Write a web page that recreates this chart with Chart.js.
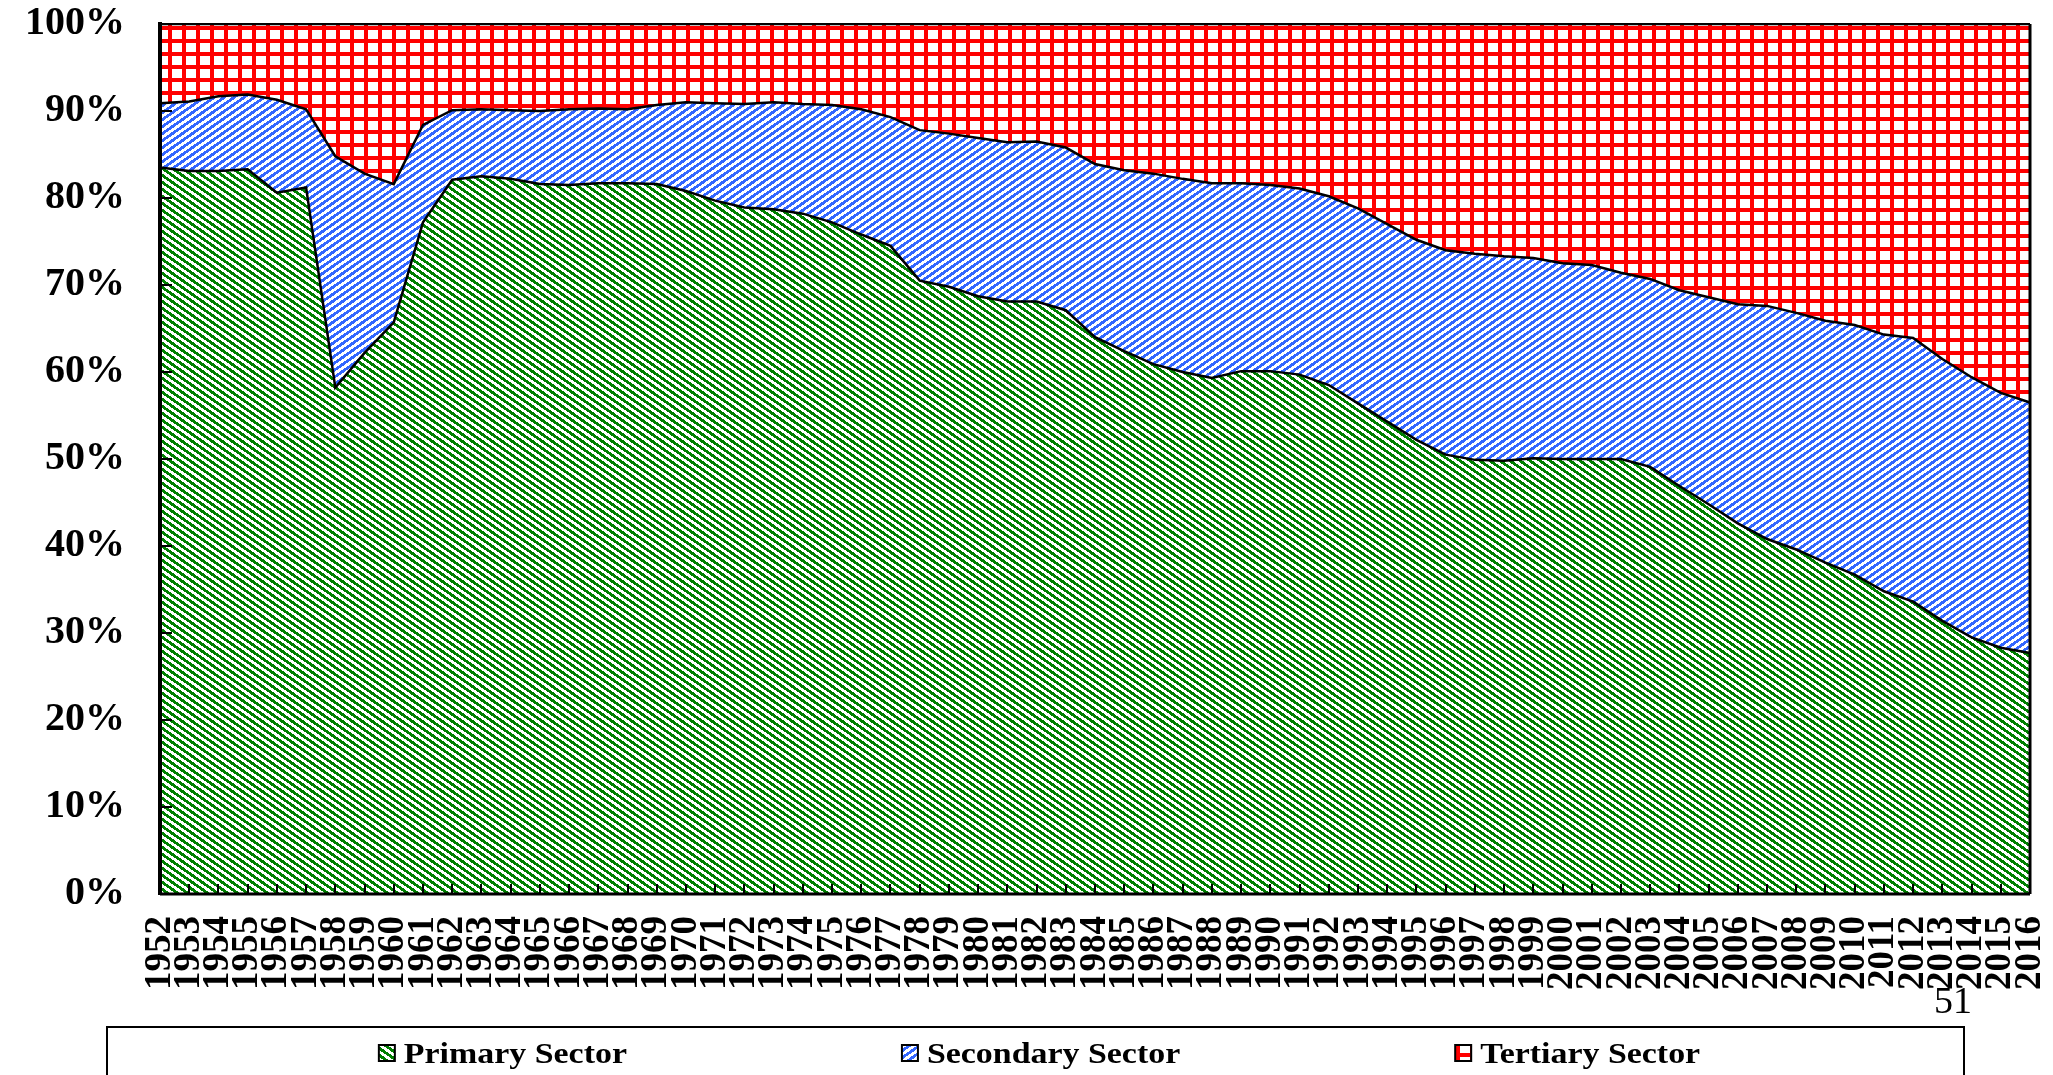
<!DOCTYPE html>
<html>
<head>
<meta charset="utf-8">
<title>Employment by sector</title>
<script src="https://cdn.jsdelivr.net/npm/chart.js@4.4.1/dist/chart.umd.min.js"></script>
<style>
  html, body { margin: 0; padding: 0; background: #fff; }
  #wrap { position: relative; width: 2053px; height: 1075px; overflow: hidden; }
  #pageNo {
    position: absolute; left: 1934px; top: 978px;
    font: 38px 'Liberation Serif', 'Times New Roman', serif; color: #000;
  }
</style>
</head>
<body>
<div id="wrap">
  <canvas id="sectorChart" width="2053" height="1075"></canvas>
  <div id="pageNo">51</div>
</div>
<script>
// data (share of employment, %)
const years = ['1952','1953','1954','1955','1956','1957','1958','1959','1960','1961',
  '1962','1963','1964','1965','1966','1967','1968','1969','1970','1971',
  '1972','1973','1974','1975','1976','1977','1978','1979','1980','1981',
  '1982','1983','1984','1985','1986','1987','1988','1989','1990','1991',
  '1992','1993','1994','1995','1996','1997','1998','1999','2000','2001',
  '2002','2003','2004','2005','2006','2007','2008','2009','2010','2011',
  '2012','2013','2014','2015','2016'];

const primary = [83.5, 83.1, 83.1, 83.3, 80.6, 81.2, 58.2, 62.2, 65.7, 77.2,
  82.1, 82.5, 82.2, 81.6, 81.5, 81.7, 81.7, 81.6, 80.8, 79.7,
  78.9, 78.7, 78.2, 77.2, 75.8, 74.5, 70.5, 69.8, 68.7, 68.1,
  68.1, 67.1, 64.0, 62.4, 60.9, 60.0, 59.3, 60.1, 60.1, 59.7,
  58.5, 56.4, 54.3, 52.2, 50.5, 49.9, 49.8, 50.1, 50.0, 50.0,
  50.0, 49.1, 46.9, 44.8, 42.6, 40.8, 39.6, 38.1, 36.7, 34.8,
  33.6, 31.4, 29.5, 28.3, 27.7];

const secondary = [7.4, 8.0, 8.6, 8.6, 10.7, 9.0, 26.6, 20.6, 15.9, 11.2,
  8.0, 7.7, 7.9, 8.4, 8.7, 8.6, 8.5, 9.1, 10.2, 11.2,
  11.9, 12.3, 12.6, 13.5, 14.4, 14.8, 17.3, 17.6, 18.2, 18.3,
  18.4, 18.7, 19.9, 20.8, 21.9, 22.2, 22.4, 21.6, 21.4, 21.4,
  21.7, 22.4, 22.7, 23.0, 23.5, 23.7, 23.5, 23.0, 22.5, 22.3,
  21.4, 21.6, 22.5, 23.8, 25.2, 26.8, 27.2, 27.8, 28.7, 29.5,
  30.3, 30.1, 29.9, 29.3, 28.8];

const tertiary = [9.1, 8.9, 8.3, 8.1, 8.7, 9.8, 15.2, 17.2, 18.4, 11.6,
  9.9, 9.8, 9.9, 10.0, 9.8, 9.7, 9.8, 9.3, 9.0, 9.1,
  9.2, 9.0, 9.2, 9.3, 9.8, 10.7, 12.2, 12.6, 13.1, 13.6,
  13.5, 14.2, 16.1, 16.8, 17.2, 17.8, 18.3, 18.3, 18.5, 18.9,
  19.8, 21.2, 23.0, 24.8, 26.0, 26.4, 26.7, 26.9, 27.5, 27.7,
  28.6, 29.3, 30.6, 31.4, 32.2, 32.4, 33.2, 34.1, 34.6, 35.7,
  36.1, 38.5, 40.6, 42.4, 43.5];

const seriesNames = ['Primary Sector', 'Secondary Sector', 'Tertiary Sector'];
const yTicks = [0, 10, 20, 30, 40, 50, 60, 70, 80, 90, 100];

// hatch fills, pixel stepped like the original
function stripePattern(color, w, h, run, dir) {
  const c = document.createElement('canvas');
  c.width = w; c.height = h;
  const g = c.getContext('2d');
  g.fillStyle = '#fff';
  g.fillRect(0, 0, w, h);
  g.fillStyle = color;
  for (let y = 0; y < h; y++) {
    let start = Math.round(y * w / h) * dir;
    start = ((start % w) + w) % w;
    for (let k = 0; k < run; k++) g.fillRect((start + k) % w, y, 1, 1);
  }
  return g.createPattern(c, 'repeat');
}

function gridPattern(color, w, h, t) {
  const c = document.createElement('canvas');
  c.width = w; c.height = h;
  const g = c.getContext('2d');
  g.fillStyle = '#fff';
  g.fillRect(0, 0, w, h);
  g.fillStyle = color;
  g.fillRect(0, 0, t, h);
  g.fillRect(0, 0, w, t);
  return g.createPattern(c, 'repeat');
}

const fills = [
  stripePattern('#008000', 10, 7, 5, 1),
  stripePattern('#3366ff', 10, 7, 5, -1),
  gridPattern('#ff0000', 14, 13, 4)
];

// frame + inward tick marks
const frameTicks = {
  id: 'frameTicks',
  afterDatasetsDraw(chart) {
    const { ctx, chartArea: a, scales: { x, y } } = chart;
    ctx.save();
    ctx.strokeStyle = '#000';
    ctx.lineWidth = 2;
    ctx.beginPath();
    y.ticks.forEach((t, i) => {
      const py = Math.round(y.getPixelForTick(i));
      ctx.moveTo(a.left, py); ctx.lineTo(a.left + 12, py);
    });
    x.ticks.forEach((t, i) => {
      const px = Math.round(x.getPixelForTick(i));
      ctx.moveTo(px, a.bottom); ctx.lineTo(px, a.bottom - 10);
    });
    ctx.stroke();

    ctx.lineWidth = 2;
    ctx.beginPath();
    ctx.moveTo(a.left, a.top); ctx.lineTo(a.right, a.top);
    ctx.stroke();
    ctx.lineWidth = 3;
    ctx.beginPath();
    ctx.moveTo(a.right, a.top); ctx.lineTo(a.right, a.bottom);
    ctx.moveTo(a.left, a.bottom); ctx.lineTo(a.right, a.bottom);
    ctx.stroke();
    ctx.lineWidth = 4;
    ctx.beginPath();
    ctx.moveTo(a.left, a.top - 2); ctx.lineTo(a.left, a.bottom + 1);
    ctx.stroke();
    ctx.restore();
  }
};

// boxed legend under the chart
const boxedLegend = {
  id: 'boxedLegend',
  afterDraw(chart, args, opts) {
    const ctx = chart.ctx;
    const sx = 1.13, font = "bold 30px 'Liberation Serif', 'Times New Roman', serif";
    ctx.save();
    ctx.strokeStyle = '#000';
    ctx.lineWidth = 2;
    ctx.strokeRect(opts.left, opts.top, opts.right - opts.left, 200);

    ctx.font = font;
    const items = chart.data.datasets.map((ds, i) => ({
      text: ds.label, fill: fills[i], w: 25 + ctx.measureText(ds.label).width * sx
    }));
    const total = items.reduce((s, it) => s + it.w, 0) + opts.gap * (items.length - 1);
    let x = (opts.left + opts.right) / 2 - total / 2 + 4;
    const base = opts.top + 36;
    items.forEach(it => {
      ctx.fillStyle = it.fill;
      ctx.fillRect(x, base - 18, 16, 16);
      ctx.lineWidth = 2;
      ctx.strokeStyle = '#000';
      ctx.strokeRect(x, base - 18, 16, 16);
      ctx.save();
      ctx.translate(x + 25, base);
      ctx.scale(sx, 1);
      ctx.fillStyle = '#000';
      ctx.textBaseline = 'alphabetic';
      ctx.fillText(it.text, 0, 0);
      ctx.restore();
      x += it.w + opts.gap;
    });
    ctx.restore();
  }
};

Chart.defaults.font.family = "'Liberation Serif', 'Times New Roman', serif";
Chart.defaults.color = '#000';

const ctx = document.getElementById('sectorChart').getContext('2d');
const chart = new Chart(ctx, {
  type: 'line',
  data: {
    labels: years,
    datasets: [primary, secondary, tertiary].map((vals, i) => ({
      label: seriesNames[i],
      data: vals,
      backgroundColor: fills[i],
      borderColor: '#000',
      borderWidth: 2.5,
      pointRadius: 0,
      tension: 0,
      fill: i === 0 ? 'origin' : '-1'
    }))
  },
  options: {
    responsive: false,
    animation: false,
    layout: { padding: { top: 24, left: 25, right: 23, bottom: 63 } },
    plugins: {
      legend: { display: false },
      tooltip: { enabled: false },
      boxedLegend: { left: 107, right: 1964, top: 1027, gap: 275 }
    },
    scales: {
      x: {
        grid: { display: false, drawTicks: false },
        border: { display: false },
        afterFit(scale) { scale.paddingLeft = 0; scale.paddingRight = 0; },
        ticks: {
          autoSkip: false, minRotation: 90, maxRotation: 90, padding: 22,
          font: { size: 37, weight: 'bold' }
        }
      },
      y: {
        stacked: true,
        min: 0, max: 100,
        afterBuildTicks(scale) { scale.ticks = yTicks.map(v => ({ value: v })); },
        afterFit(scale) {
          scale.paddingTop = 0; scale.paddingBottom = 0;
          scale.width -= scale.options.ticks.padding;
        },
        grid: { display: false, drawTicks: false },
        border: { display: false },
        ticks: {
          padding: 35,
          font: { size: 40, weight: 'bold' },
          callback: v => v + '%'
        }
      }
    }
  },
  plugins: [frameTicks, boxedLegend]
});
</script>
</body>
</html>
